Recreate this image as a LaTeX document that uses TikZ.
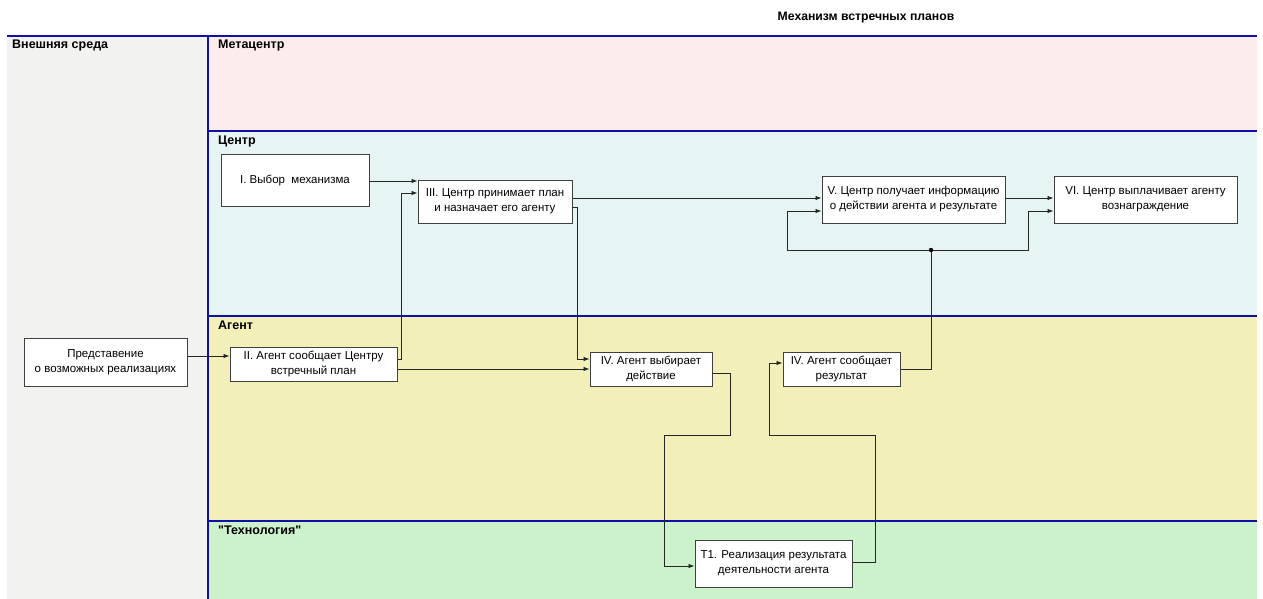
\documentclass[tikz,border=0pt]{standalone}
\usepackage{fontspec}
\setmainfont{Liberation Sans}
\newfontfamily\qfont{Liberation Sans}
\usetikzlibrary{arrows.meta,calc}
\definecolor{lanepink}{HTML}{FCEDEC}
\definecolor{lanecyan}{HTML}{E6F4F4}
\definecolor{laneyellow}{HTML}{F2F0B8}
\definecolor{lanegreen}{HTML}{CCF2CC}
\definecolor{lanegrey}{HTML}{F2F2F1}
\definecolor{laneblue}{HTML}{1010A8}
\definecolor{boxline}{HTML}{404040}
\begin{document}
\begin{tikzpicture}[x=1pt,y=-1pt,
  proc/.style={draw=boxline,fill=white,line width=1pt,inner sep=0pt,align=center,
    font=\fontsize{11.5}{15}\selectfont},
  lanelabel/.style={anchor=north west,inner sep=0pt,font=\qfont\fontsize{12.5}{14}\selectfont\bfseries},
  lane/.style={draw=laneblue,line width=1.6pt},
  arr/.style={draw=black!85,line width=0.8pt,-{Latex[length=6pt,width=4.5pt]}},
  lnk/.style={draw=black!85,line width=0.8pt}]
\useasboundingbox (0,0) rectangle (1263,599);
% lanes
\fill[lanegrey] (7,36) rectangle (208,599);
\fill[lanepink] (208,36) rectangle (1257,131);
\fill[lanecyan] (208,131) rectangle (1257,316);
\fill[laneyellow] (208,316) rectangle (1257,521);
\fill[lanegreen] (208,521) rectangle (1257,599);
\draw[lane] (7,36) -- (1257,36);
\draw[lane] (208,131) -- (1257,131);
\draw[lane] (208,316) -- (1257,316);
\draw[lane] (208,521) -- (1257,521);
\draw[lane] (208,36) -- (208,599);
% labels
\node[anchor=center,inner sep=0pt,font=\fontsize{12.2}{14}\selectfont\bfseries] (title) at (866,18) {Механизм встречных планов};
\node[lanelabel] (lext) at (12,40) {Внешняя среда};
\node[lanelabel] (lmeta) at (218,40) {Метацентр};
\node[lanelabel] (lcent) at (218,135.5) {Центр};
\node[lanelabel] (lagent) at (218,320.5) {Агент};
\node[lanelabel] (ltech) at (218,525.5) {"Технология"};
% boxes
\node[proc,minimum width=148pt,minimum height=52pt] (b1) at (295,180) {I. Выбор\ \ механизма};
\node[proc,minimum width=154pt,minimum height=43pt] (b3) at (495,201.5) {III. Центр принимает план\\и назначает его агенту};
\node[proc,minimum width=183pt,minimum height=47pt] (b5) at (913.5,199.5) {V. Центр получает информацию\\о действии агента и результате};
\node[proc,minimum width=183pt,minimum height=47pt] (b6) at (1145.5,199.5) {VI. Центр выплачивает агенту\\вознаграждение};
\node[proc,minimum width=163pt,minimum height=48pt] (bext) at (105.5,362) {Представение\\о возможных реализациях};
\node[proc,minimum width=167pt,minimum height=34pt] (b2) at (313.5,364) {II. Агент сообщает Центру\\встречный план};
\node[proc,minimum width=122pt,minimum height=34pt] (b4a) at (651,369) {IV. Агент выбирает\\действие};
\node[proc,minimum width=117pt,minimum height=34pt] (b4b) at (841.5,369) {IV. Агент сообщает\\результат};
\node[proc,minimum width=157pt,minimum height=47pt] (bt1) at (773.5,563.5) {T1. Реализация результата\\деятельности агента};
% connectors
\draw[arr] (bext.east |- 0,356) -- (b2.west |- 0,356);
\draw[arr] (b1.east |- 0,181) -- (b3.west |- 0,181);
\coordinate (c2a) at (401,359);
\coordinate (c2b) at (401,193);
\draw[arr] (b2.east |- c2a) -- (c2a) -- (c2b) -- (b3.west |- c2b);
\draw[arr] (b3.east |- 0,198) -- (b5.west |- 0,198);
\coordinate (c3a) at (577,207);
\coordinate (c3b) at (577,359);
\draw[arr] (b3.east |- c3a) -- (c3a) -- (c3b) -- (b4a.west |- c3b);
\draw[arr] (b2.east |- 0,369) -- (b4a.west |- 0,369);
\draw[arr] (b5.east |- 0,198) -- (b6.west |- 0,198);
\coordinate (j) at (931,250);
\draw[lnk] (b4b.east |- 0,369) -- (931,369) -- (j);
\coordinate (c5a) at (787,250);
\coordinate (c5b) at (787,211);
\draw[arr] (j) -- (c5a) -- (c5b) -- (b5.west |- c5b);
\coordinate (c6a) at (1028,250);
\coordinate (c6b) at (1028,211);
\draw[arr] (j) -- (c6a) -- (c6b) -- (b6.west |- c6b);
\fill[black] (j) circle (2.2pt);
\coordinate (c8a) at (730,373);
\coordinate (c8b) at (730,435);
\coordinate (c8c) at (664,435);
\coordinate (c8d) at (664,566);
\draw[arr] (b4a.east |- c8a) -- (c8a) -- (c8b) -- (c8c) -- (c8d) -- (bt1.west |- c8d);
\coordinate (c9a) at (875,562);
\coordinate (c9b) at (875,435);
\coordinate (c9c) at (769,435);
\coordinate (c9d) at (769,363);
\draw[arr] (bt1.east |- c9a) -- (c9a) -- (c9b) -- (c9c) -- (c9d) -- (b4b.west |- c9d);
\end{tikzpicture}
\end{document}
